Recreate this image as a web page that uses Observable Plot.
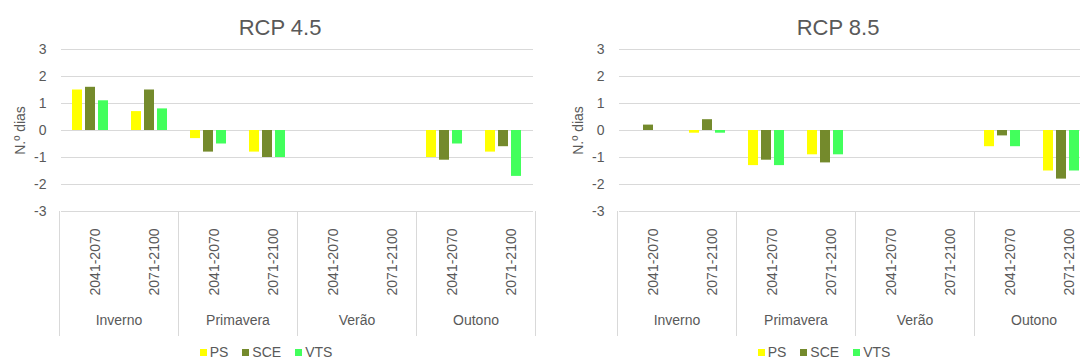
<!DOCTYPE html>
<html>
<head>
<meta charset="utf-8">
<script src="https://cdn.jsdelivr.net/npm/d3@7"></script>
<script src="https://cdn.jsdelivr.net/npm/@observablehq/plot@0.6"></script>
<style>
  html, body { margin: 0; padding: 0; background: #fff; }
  body { width: 1080px; height: 361px; overflow: hidden; position: relative;
         font-family: "Liberation Sans", Arial, sans-serif; color: #595959; }
  .chart { position: absolute; top: 0; width: 558px; height: 361px; }
  .title { position: absolute; left: 0; width: 560px; top: 15px; text-align: center;
           font-size: 22px; line-height: 26px; color: #595959; }
  .top { position: absolute; left: 0; top: 0; }
  .bottom { position: absolute; left: 0; top: 211px; }
  .legend { position: absolute; left: 0; width: 532px; top: 344px; text-align: center;
            font-size: 14px; line-height: 16px; color: #595959; white-space: nowrap; }
  .legend span.item { margin: 0 7px; }
  .legend span.sw { display: inline-block; width: 7px; height: 7px; margin-right: 3px; vertical-align: 1px; }
</style>
</head>
<body>
<script>
// ---- data ----
const seasons = ["Inverno", "Primavera", "Verão", "Outono"];
const periods = ["2041-2070", "2071-2100"];
const series = ["PS", "SCE", "VTS"];
const seriesColors = ["#ffff00", "#748a2c", "#42ff5c"];
const yTicks = [-3, -2, -1, 0, 1, 2, 3];
const yLabel = "N.º dias";

const titles = ["RCP 4.5", "RCP 8.5"];
// values per slot: Inverno 2041-2070, Inverno 2071-2100, Primavera ..., Verão ..., Outono ...
const rcp45_PS  = [1.5, 0.7, -0.3, -0.8, 0, 0, -1.0, -0.8];
const rcp45_SCE = [1.6, 1.5, -0.8, -1.0, 0, 0, -1.1, -0.6];
const rcp45_VTS = [1.1, 0.8, -0.5, -1.0, 0, 0, -0.5, -1.7];
const rcp85_PS  = [0, -0.1, -1.3, -0.9, 0, 0, -0.6, -1.5];
const rcp85_SCE = [0.2, 0.4, -1.1, -1.2, 0, 0, -0.2, -1.8];
const rcp85_VTS = [0, -0.1, -1.3, -0.9, 0, 0, -0.6, -1.5];

const chartValues = [
  [rcp45_PS, rcp45_SCE, rcp45_VTS],
  [rcp85_PS, rcp85_SCE, rcp85_VTS]
];

// ---- build ----
const font = "'Liberation Sans', Arial, sans-serif";
const textColor = "#595959";
const gridColor = "#d9d9d9";
const slots = [];
const periodRows = [];
seasons.forEach(s => periods.forEach(p => { slots.push(s + "|" + p); periodRows.push({season: s, period: p}); }));

function makeChart(title, values, left) {
  const div = document.createElement("div");
  div.className = "chart";
  div.style.left = left + "px";

  const rows = [];
  series.forEach((ser, k) => values[k].forEach((v, i) => rows.push({slot: slots[i], series: ser, value: v})));

  const top = Plot.plot({
    width: 558, height: 212,
    marginTop: 49, marginBottom: 1, marginLeft: 59, marginRight: 23,
    style: {fontFamily: font, fontSize: "14px", color: textColor, background: "transparent", overflow: "visible"},
    fx: {domain: slots, padding: 0, axis: null},
    x: {domain: series, paddingInner: 0.21, paddingOuter: 0.84, axis: null},
    y: {domain: [-3, 3], axis: null},
    color: {domain: series, range: seriesColors},
    marks: [
      Plot.gridY(yTicks, {stroke: gridColor, strokeOpacity: 1}),
      Plot.axisY(yTicks, {tickSize: 0, tickPadding: 15, tickFormat: d => String(d), fontSize: 14,
        fill: textColor, label: yLabel, labelAnchor: "center", labelOffset: 46, labelArrow: "none"}),
      Plot.barY(rows, {fx: "slot", x: "series", y: "value", fill: "series"})
    ]
  });
  top.classList.add("top");

  const bottom = Plot.plot({
    width: 558, height: 124,
    marginTop: 0, marginBottom: 0, marginLeft: 59, marginRight: 23,
    style: {fontFamily: font, fontSize: "14px", color: textColor, background: "transparent", overflow: "visible"},
    fx: {domain: seasons, padding: 0, axis: null},
    x: {type: "band", domain: periods, padding: 0, axis: null},
    marks: [
      Plot.frame({anchor: "left", stroke: gridColor, strokeOpacity: 1}),
      Plot.frame({anchor: "right", stroke: gridColor, strokeOpacity: 1}),
      Plot.text(periodRows, {fx: "season", x: "period", text: "period", rotate: -90, textAnchor: "end",
        frameAnchor: "top", dy: 17, fontSize: 14, fill: textColor}),
      Plot.text(seasons, {fx: d => d, text: d => d, frameAnchor: "bottom", dy: -11, fontSize: 14, fill: textColor})
    ]
  });
  bottom.classList.add("bottom");

  const t = document.createElement("div");
  t.className = "title";
  t.textContent = title;

  const lg = document.createElement("div");
  lg.className = "legend";
  series.forEach((s, i) => {
    const item = document.createElement("span");
    item.className = "item";
    const sw = document.createElement("span");
    sw.className = "sw";
    sw.style.background = seriesColors[i];
    item.appendChild(sw);
    item.appendChild(document.createTextNode(s));
    lg.appendChild(item);
  });

  div.appendChild(top);
  div.appendChild(bottom);
  div.appendChild(t);
  div.appendChild(lg);
  document.body.appendChild(div);
}

makeChart(titles[0], chartValues[0], 0);
makeChart(titles[1], chartValues[1], 558);
</script>
</body>
</html>
